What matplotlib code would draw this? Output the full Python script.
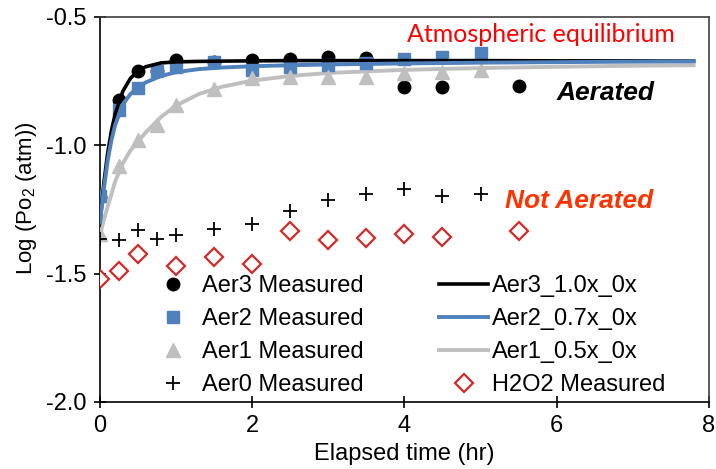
import matplotlib
matplotlib.use('Agg')
import matplotlib.pyplot as plt

plt.rcParams['font.family'] = ['Liberation Sans', 'DejaVu Sans']
plt.rcParams['mathtext.fontset'] = 'custom'
plt.rcParams['mathtext.rm'] = 'Liberation Sans'
plt.rcParams['mathtext.it'] = 'Liberation Sans:italic'

# Measured data (time in hr, log Po2)
t_aer3 = [0, 0.25, 0.5, 0.75, 1.0, 1.5, 2.0, 2.5, 3.0, 3.5, 4.0, 4.5, 5.5]
y_aer3 = [-1.20, -0.825, -0.71, -0.71, -0.668, -0.675, -0.668, -0.665, -0.656, -0.658, -0.773, -0.773, -0.77]

t_aer2 = [0, 0.25, 0.5, 0.75, 1.0, 1.5, 2.0, 2.5, 3.0, 3.5, 4.0, 4.5, 5.0]
y_aer2 = [-1.197, -0.864, -0.775, -0.71, -0.695, -0.677, -0.707, -0.695, -0.688, -0.681, -0.665, -0.655, -0.642]

t_aer1 = [0, 0.25, 0.5, 0.75, 1.0, 1.5, 2.0, 2.5, 3.0, 3.5, 4.0, 4.5, 5.0]
y_aer1 = [-1.345, -1.082, -0.981, -0.92, -0.842, -0.779, -0.736, -0.734, -0.735, -0.733, -0.718, -0.714, -0.707]

t_aer0 = [0, 0.25, 0.5, 0.75, 1.0, 1.5, 2.0, 2.5, 3.0, 3.5, 4.0, 4.5, 5.0]
y_aer0 = [-1.366, -1.37, -1.331, -1.366, -1.349, -1.327, -1.305, -1.255, -1.213, -1.19, -1.17, -1.197, -1.19]

t_h2o2 = [0, 0.25, 0.5, 1.0, 1.5, 2.0, 2.5, 3.0, 3.5, 4.0, 4.5, 5.5]
y_h2o2 = [-1.519, -1.49, -1.422, -1.47, -1.435, -1.462, -1.334, -1.37, -1.36, -1.347, -1.357, -1.334]

# Model curves
t_fit = [0, 0.05, 0.1, 0.15, 0.2, 0.3, 0.4, 0.5, 0.6, 0.8, 1.0, 1.3, 1.6, 2.0, 2.5, 3.0, 4.0, 5.0, 6.0, 7.0, 7.8]
y_fit3 = [-1.30, -1.147, -1.031, -0.943, -0.877, -0.789, -0.739, -0.71, -0.694, -0.679, -0.675, -0.673, -0.672,
          -0.671, -0.670, -0.670, -0.670, -0.670, -0.671, -0.671, -0.672]
y_fit2 = [-1.30, -1.17, -1.06, -0.98, -0.92, -0.84, -0.80, -0.775, -0.755, -0.73, -0.715, -0.703, -0.697,
          -0.692, -0.688, -0.685, -0.681, -0.678, -0.676, -0.674, -0.673]
y_fit1 = [-1.35, -1.29, -1.24, -1.19, -1.14, -1.07, -1.02, -0.985, -0.95, -0.89, -0.845, -0.80, -0.772,
          -0.748, -0.73, -0.718, -0.706, -0.699, -0.694, -0.69, -0.688]

BLUE = '#4f81bd'
GREY = '#bfbfbf'

fig = plt.figure(figsize=(7.16, 4.69), dpi=100)
ax = fig.add_axes([0.1397, 0.1429, 0.8503, 0.8209])

# measured points
h3, = ax.plot(t_aer3, y_aer3, 'o', color='black', ms=9, ls='none', label='Aer3 Measured', zorder=3)
h2, = ax.plot(t_aer2, y_aer2, 's', color=BLUE, ms=9, ls='none', label='Aer2 Measured', zorder=3)
h1, = ax.plot(t_aer1, y_aer1, '^', color=GREY, ms=10, ls='none', label='Aer1 Measured', zorder=3)
h0, = ax.plot(t_aer0, y_aer0, '+', color='black', ms=10.5, mew=1.3, ls='none', label='Aer0 Measured', zorder=3)
hd, = ax.plot(t_h2o2, y_h2o2, 'D', mfc='white', mec='#d42a2a', mew=1.6, ms=9, ls='none',
              label='H2O2 Measured', zorder=3)

# model lines
l3, = ax.plot(t_fit, y_fit3, color='black', lw=2.6, label='Aer3_1.0x_0x', zorder=4)
l2, = ax.plot(t_fit, y_fit2, color=BLUE, lw=2.8, label='Aer2_0.7x_0x', zorder=4)
l1, = ax.plot(t_fit, y_fit1, color=GREY, lw=2.8, label='Aer1_0.5x_0x', zorder=2)

ax.set_xlim(0, 8)
ax.set_ylim(-2.0, -0.5)
ax.set_xticks([0, 2, 4, 6, 8])
ax.set_yticks([-2.0, -1.5, -1.0, -0.5])
ax.set_yticklabels(['-2.0', '-1.5', '-1.0', '-0.5'])
ax.tick_params(direction='inout', length=9, width=1.2, labelsize=17, pad=5)
for sp in ax.spines.values():
    sp.set_linewidth(1.2)
ax.spines['top'].set_color('#404040')
ax.spines['right'].set_color('#404040')

ax.set_xlabel('Elapsed time (hr)', fontsize=17, labelpad=4)
ax.set_ylabel('Log (Po$_2$ (atm))', fontsize=16, labelpad=8)
ax.yaxis.set_label_coords(-0.1, 0.53)

ax.text(4.03, -0.567, 'Atmospheric equilibrium', color='red', fontsize=18,
        family=['Lato', 'DejaVu Sans'], va='center', ha='left')
ax.text(6.0, -0.797, 'Aerated', color='black', fontsize=19, fontweight='bold',
        fontstyle='italic', va='center', ha='left')
ax.text(5.32, -1.216, 'Not Aerated', color='#ff3300', fontsize=19, fontweight='bold',
        fontstyle='italic', va='center', ha='left')

handles = [h3, h2, h1, h0, l3, l2, l1, hd]
ax.legend(handles=handles, ncol=2, loc='upper left', bbox_to_anchor=(0.0796, 0.33),
          frameon=False, fontsize=17, handlelength=2.1, handletextpad=0.15,
          columnspacing=3.2, labelspacing=0.47, borderpad=0, borderaxespad=0)

fig.savefig('out.png', dpi=100)
